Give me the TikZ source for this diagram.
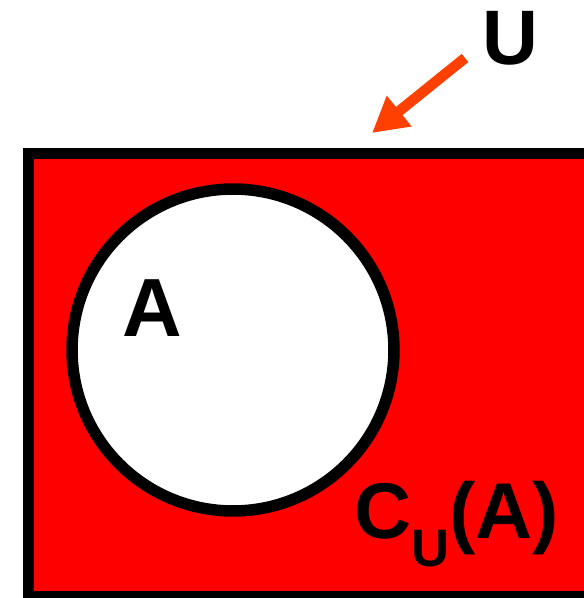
\documentclass[tikz,border=0pt]{standalone}
\usepackage{fontspec}
\setmainfont{Liberation Sans}
\usepackage{xcolor}
\usepackage{tikz}
\usetikzlibrary{arrows.meta, positioning}
\definecolor{kred}{HTML}{FF0000}
\definecolor{korange}{HTML}{FF4000}
\tikzset{
  universe/.style={draw=black, fill=kred, line width=0.22cm},
  setcircle/.style={draw=black, fill=white, circle, line width=0.23cm,
                    minimum size=6.44cm, inner sep=0},
  biglabel/.style={font=\fontsize{44}{44}\selectfont\bfseries, inner sep=0, anchor=base west},
  pointer/.style={-{Triangle[length=0.7cm, width=0.74cm]}, korange, line width=0.21cm},
}
\begin{document}
\begin{tikzpicture}[x=0.02cm, y=-0.02cm]
  \useasboundingbox (0,0) rectangle (583,598);

  % universe with the set A inside
  \draw[universe] (28.5,153.5) rectangle (640,596.5);
  \node[setcircle] (setA) at (233,350) {};

  \node[biglabel, font=\fontsize{47}{47}\selectfont\bfseries] (lblA) at (122,336) {A};
  \node[biglabel, font=\fontsize{45}{45}\selectfont\bfseries] (lblC) at (354,538)
    {C\raisebox{-0.36em}{\fontsize{30}{30}\selectfont U}(A)};

  % pointer to U
  \node[biglabel] (lblU) at (482,65) {U};
  \coordinate (tail) at (465,58);
  \coordinate (tip) at (372,133);
  \draw[pointer] (tail) -- (tip);

\end{tikzpicture}
\end{document}
